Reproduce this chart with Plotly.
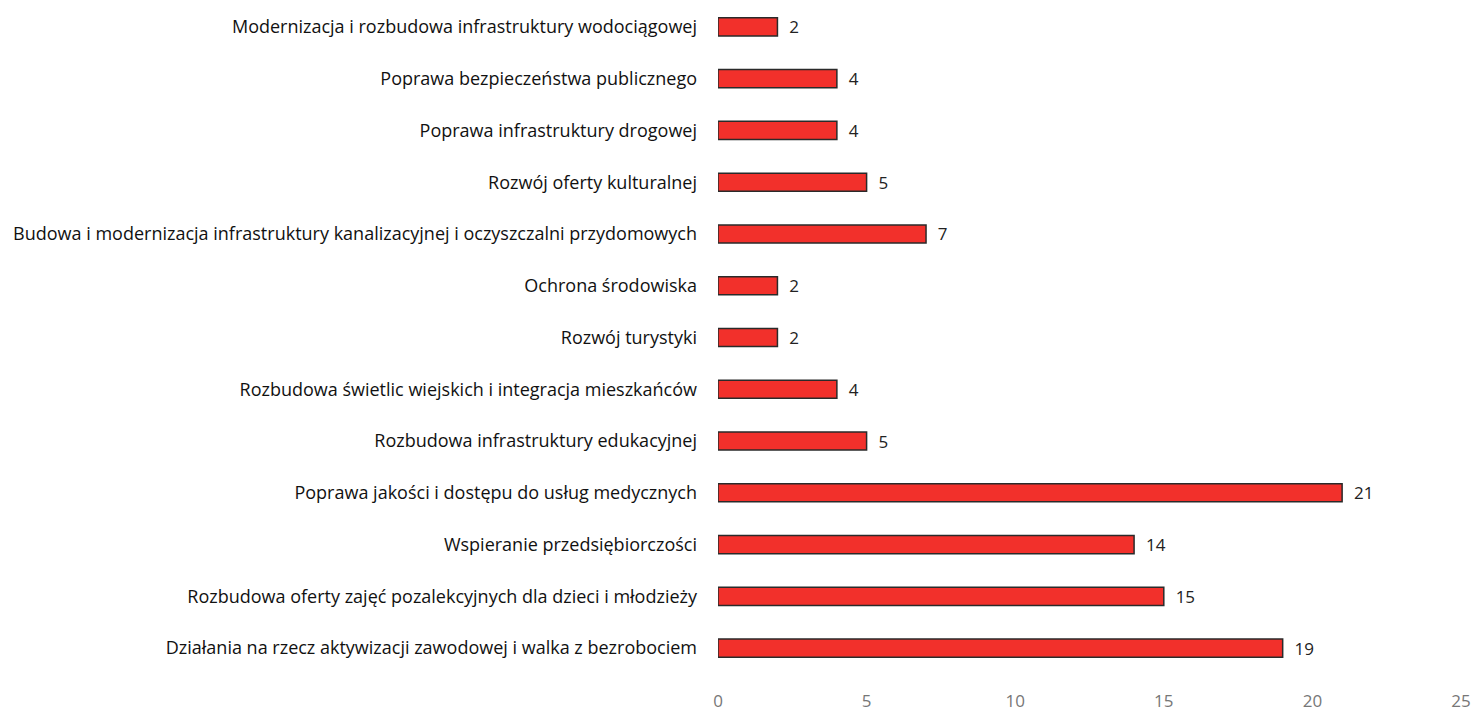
import plotly.graph_objects as go

categories = [
    "Modernizacja i rozbudowa infrastruktury wodociągowej",
    "Poprawa bezpieczeństwa publicznego",
    "Poprawa infrastruktury drogowej",
    "Rozwój oferty kulturalnej",
    "Budowa i modernizacja infrastruktury kanalizacyjnej i oczyszczalni przydomowych",
    "Ochrona środowiska",
    "Rozwój turystyki",
    "Rozbudowa świetlic wiejskich i integracja mieszkańców",
    "Rozbudowa infrastruktury edukacyjnej",
    "Poprawa jakości i dostępu do usług medycznych",
    "Wspieranie przedsiębiorczości",
    "Rozbudowa oferty zajęć pozalekcyjnych dla dzieci i młodzieży",
    "Działania na rzecz aktywizacji zawodowej i walka z bezrobociem",
]
values = [2, 4, 4, 5, 7, 2, 2, 4, 5, 21, 14, 15, 19]
x_ticks = [0, 5, 10, 15, 20, 25]

fig = go.Figure(
    go.Bar(
        y=categories,
        x=values,
        orientation="h",
        width=0.35,
        marker=dict(color="#f2302b", line=dict(color="#2a2a2a", width=1.5)),
        text=values,
        texttemplate="  %{x}",
        textposition="outside",
        constraintext="none",
        textfont=dict(family="Open Sans", size=17, color="#222222"),
        cliponaxis=False,
    )
)

fig.update_layout(
    width=1471,
    height=714,
    margin=dict(l=718, r=10, t=1, b=40),
    paper_bgcolor="white",
    plot_bgcolor="white",
    showlegend=False,
    font=dict(family="Open Sans", color="#222222"),
)
fig.update_yaxes(
    autorange="reversed",
    automargin=False,
    ticklabelstandoff=20,
    tickfont=dict(family="Open Sans", size=18, color="#111111"),
    showgrid=False,
    showline=False,
    ticks="",
)
fig.update_xaxes(
    range=[0, 25],
    tickvals=x_ticks,
    automargin=False,
    showgrid=False,
    zeroline=False,
    showline=False,
    ticks="outside",
    ticklen=12,
    tickcolor="rgba(0,0,0,0)",
    tickfont=dict(family="Open Sans", size=17, color="#777777"),
)

fig.write_html(
    "out.html",
    config={"displayModeBar": False},
    post_script="document.body.style.margin='0';document.body.style.overflow='hidden';",
)
